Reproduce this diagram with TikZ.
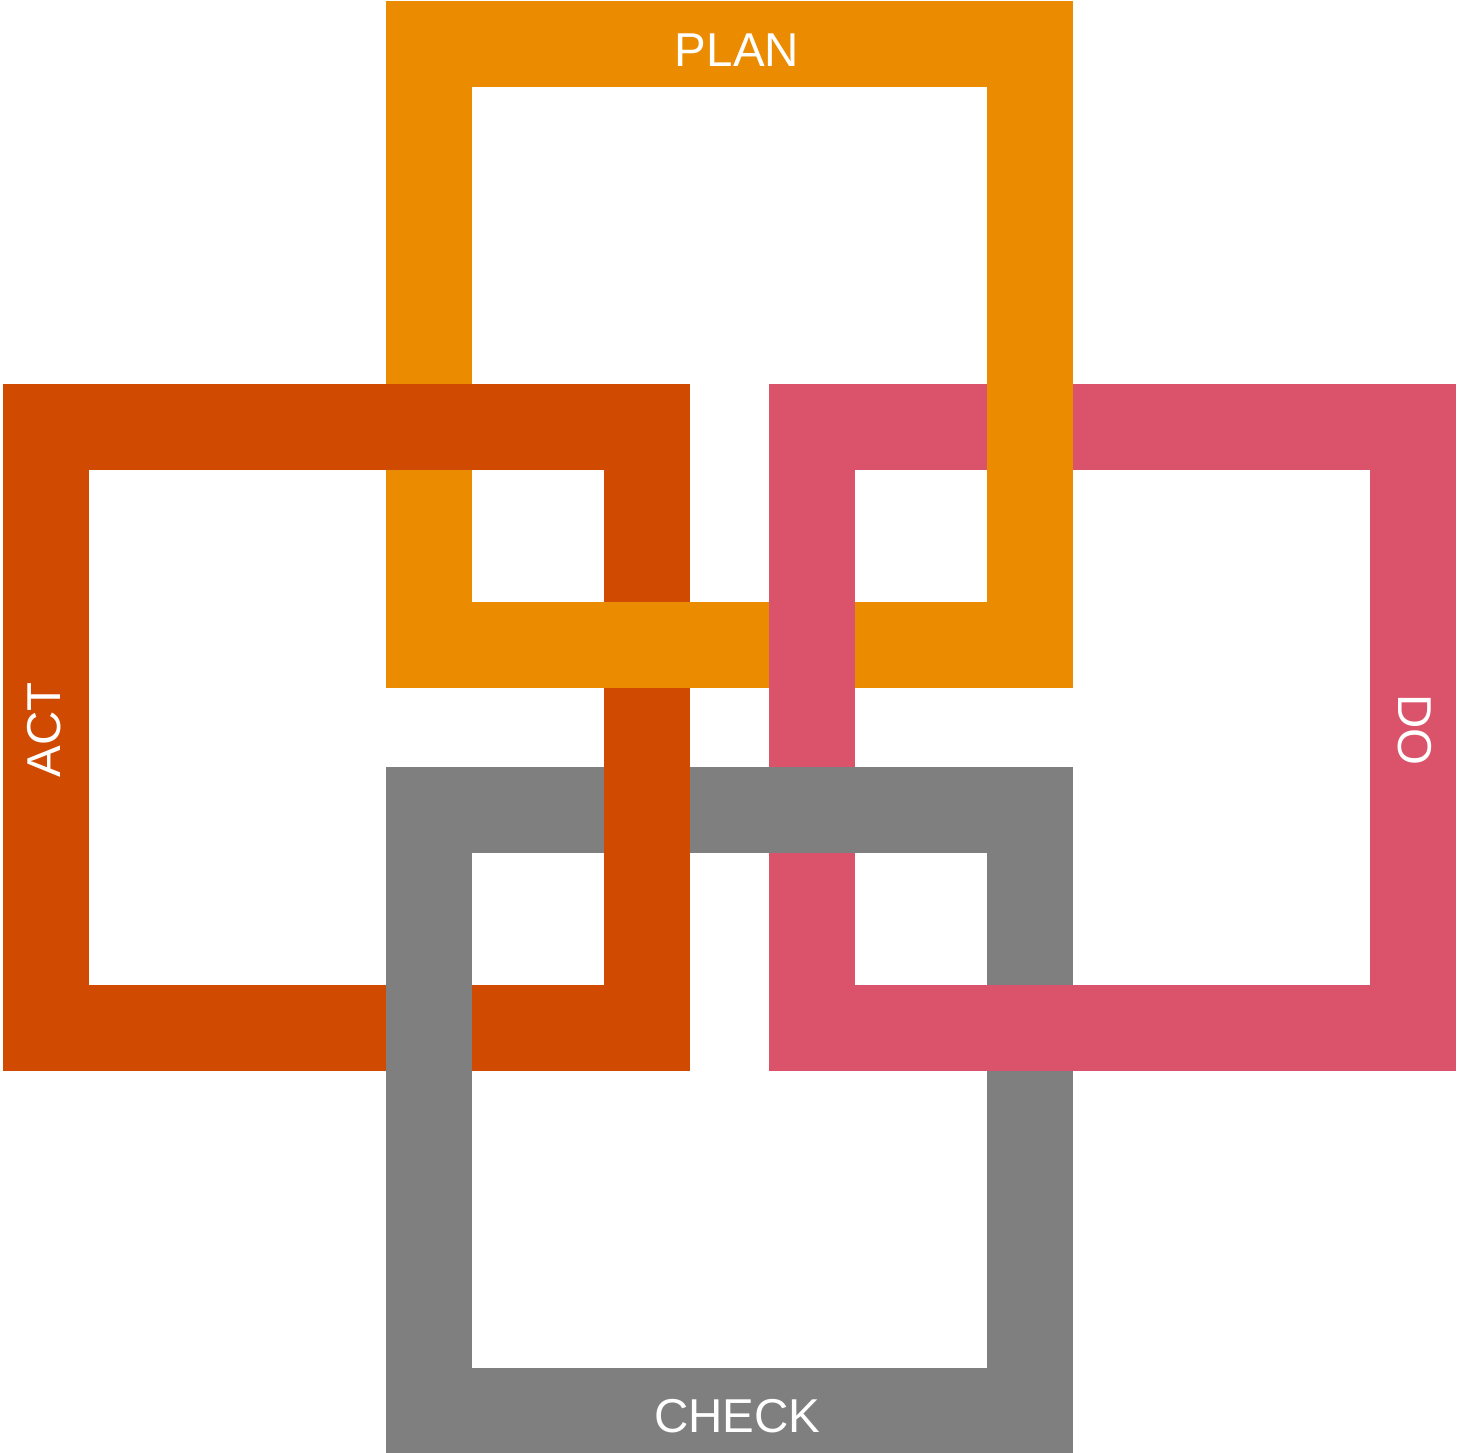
\documentclass[tikz,border=0pt]{standalone}
\usepackage{fontspec}
\setmainfont{Liberation Sans}
\definecolor{planc}{HTML}{EB8C00}
\definecolor{actc}{HTML}{D04A02}
\definecolor{doc}{HTML}{DB536A}
\definecolor{checkc}{HTML}{7F7F7F}
\begin{document}
\begin{tikzpicture}[x=1pt,y=-1pt,
  frame/.style={draw=#1, line width=86pt, minimum width=601pt, minimum height=601pt, inner sep=0pt},
  label/.style={text=white, font=\fontsize{47.5}{57}\selectfont, inner sep=0pt, anchor=base}]
\useasboundingbox[fill=white] (0,0) rectangle (1461,1452);
% four interlocking square frames
\node[frame=actc]   (act)   at (346.5,727.5)  {};
\node[frame=checkc] (check) at (729.5,1110.5) {};
\node[frame=doc]    (do)    at (1112.5,727.5) {};
\node[frame=planc]  (plan)  at (729.5,344.5)  {};
% crossings where the lower-drawn frame passes over
\fill[actc]   (386,384) rectangle (472,470);
\fill[doc]    (769,602) rectangle (855,688);
\fill[actc]   (604,767) rectangle (690,853);
\fill[checkc] (769,767) rectangle (855,853);
% labels
\node[label] (tplan)  at (737,66)    {PLAN};
\node[label] (tcheck) at (737.5,1432) {CHECK};
\node[label, rotate=90]  (tact) at (60,730)   {ACT};
\node[label, rotate=-90] (tdo)  at (1398,730) {DO};
\end{tikzpicture}
\end{document}
